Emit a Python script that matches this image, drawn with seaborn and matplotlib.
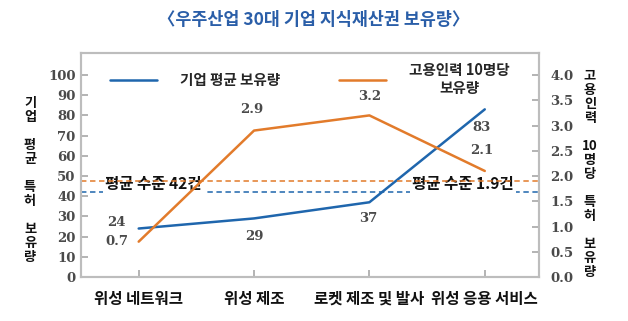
import matplotlib
matplotlib.use("Agg")
import matplotlib.pyplot as plt
import seaborn as sns
import pandas as pd
from matplotlib.lines import Line2D

categories = ["위성 네트워크", "위성 제조", "로켓 제조 및 발사", "위성 응용 서비스"]
avg_patents = [24, 29, 37, 83]
per10_patents = [0.7, 2.9, 3.2, 2.1]
avg_mean = 42
per10_mean = 1.9
left_ticks = [0, 10, 20, 30, 40, 50, 60, 70, 80, 90, 100]
right_ticks = [0.0, 0.5, 1.0, 1.5, 2.0, 2.5, 3.0, 3.5, 4.0]

BLUE = "#1f66ad"
ORANGE = "#e27b2b"
KR = ["Noto Sans CJK KR", "DejaVu Sans"]
NUM = "DejaVu Serif"
GRAY = "#4a4a4a"

sns.set_theme(style="white")
plt.rcParams["font.family"] = KR

df = pd.DataFrame({"x": range(len(categories)), "a": avg_patents, "b": per10_patents})

fig = plt.figure(figsize=(6.28, 3.21), dpi=100)
ax = fig.add_axes([81/628, 1-277/321, (539-81)/628, (277-53)/321])
ax2 = ax.twinx()

sns.lineplot(data=df, x="x", y="a", ax=ax, color=BLUE, lw=1.8)
sns.lineplot(data=df, x="x", y="b", ax=ax2, color=ORANGE, lw=1.8)

ax.set_xlim(-0.5, 3.47)
ax.set_ylim(0, 110.9)
ax2.set_ylim(0, 4.436)

ax.axhline(avg_mean, color=BLUE, ls=(0, (3, 2)), lw=1.3, alpha=0.85)
ax2.axhline(per10_mean, color=ORANGE, ls=(0, (3, 2)), lw=1.3, alpha=0.85)

ax.set_xticks(range(len(categories)))
ax.set_xticklabels(categories, fontsize=11.2, fontweight="bold", color="#111")
ax.set_yticks(left_ticks)
ax.set_yticklabels([str(t) for t in left_ticks], fontfamily=NUM, fontweight="bold",
                   fontsize=9.5, color=GRAY)
ax2.set_yticks(right_ticks)
ax2.set_yticklabels([f"{t:.1f}" for t in right_ticks], fontfamily=NUM, fontweight="bold",
                    fontsize=9.5, color=GRAY)
ax.set_xlabel("")
ax.set_ylabel("")
ax2.set_ylabel("")

ax.tick_params(axis="y", direction="in", length=5, color="#aaa", pad=4, left=True)
ax.tick_params(axis="x", direction="in", length=5, color="#aaa", pad=10, bottom=True)
ax2.tick_params(axis="y", direction="in", length=5, color="#aaa", pad=8, right=True)
for a in (ax, ax2):
    for s in a.spines.values():
        s.set_color("#bdbdbd")
        s.set_linewidth(1.5)

# data labels
lbl = dict(fontfamily=NUM, fontweight="bold", fontsize=9.5, color=GRAY, ha="center", va="center")
ax.text(-0.19, 27, str(avg_patents[0]), **lbl)
ax.text(1.0, 20, str(avg_patents[1]), **lbl)
ax.text(1.99, 29, str(avg_patents[2]), **lbl)
ax.text(2.97, 74, str(avg_patents[3]), **lbl)
ax2.text(-0.19, 0.7, str(per10_patents[0]), **lbl)
ax2.text(0.98, 3.32, str(per10_patents[1]), **lbl)
ax2.text(2.0, 3.58, str(per10_patents[2]), **lbl)
ax2.text(2.97, 2.5, str(per10_patents[3]), **lbl)

# mean labels
box = dict(boxstyle="square,pad=0.15", fc="white", ec="none")
ax.text(-0.29, 46, f"평균 수준 {avg_mean}건", fontsize=11.2, fontweight="bold",
        color="#111", ha="left", va="center", bbox=box, zorder=5)
ax.text(3.25, 46, f"평균 수준 {per10_mean}건", fontsize=11.2, fontweight="bold",
        color="#111", ha="right", va="center", bbox=box, zorder=5)

# legend
handles = [Line2D([], [], color=BLUE, lw=1.8), Line2D([], [], color=ORANGE, lw=1.8)]
leg = ax.legend(handles, ["기업 평균 보유량", "고용인력 10명당\n보유량"], loc="upper center",
                bbox_to_anchor=(0.5, 1.02), ncol=2, frameon=False, handlelength=3.2,
                handletextpad=1.6, columnspacing=4.0,
                prop={"family": KR, "weight": "bold", "size": 10.5})
for t in leg.get_texts():
    t.set_multialignment("center")

# side labels
fig.text(30/628, 1-180/321, "기\n업\n\n평\n균\n\n특\n허\n\n보\n유\n량", fontsize=9.5,
         fontweight="bold", ha="center", va="center", linespacing=1.0, color="#111")
fig.text(590/628, 1-174/321, "고\n용\n인\n력\n\n10\n명\n당\n\n특\n허\n\n보\n유\n량",
         fontsize=9.5, fontweight="bold", ha="center", va="center", linespacing=1.0, color="#111")

fig.text(0.5, 1-20/321, "〈우주산업 30대 기업 지식재산권 보유량〉", fontsize=12.5,
         fontweight="bold", color="#2a5ea8", ha="center", va="center")

fig.savefig("out.png", dpi=100)
